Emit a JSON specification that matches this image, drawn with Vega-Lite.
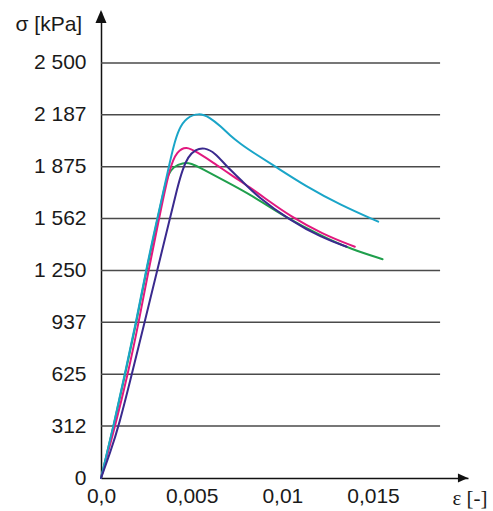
{
  "$schema": "https://vega.github.io/schema/vega-lite/v6.json",
  "width": 367,
  "height": 466,
  "autosize": {"type": "none"},
  "padding": {"left": 101, "top": 12, "right": 25, "bottom": 33},
  "background": "white",
  "config": {
    "view": {"stroke": null},
    "font": "Liberation Sans"
  },
  "datasets": {
    "curves": [
      {"specimen": "1", "strain": 0, "stress": 0},
      {"specimen": "1", "strain": 0.0007, "stress": 312},
      {"specimen": "1", "strain": 0.00133, "stress": 625},
      {"specimen": "1", "strain": 0.00195, "stress": 937},
      {"specimen": "1", "strain": 0.0025, "stress": 1250},
      {"specimen": "1", "strain": 0.00312, "stress": 1562},
      {"specimen": "1", "strain": 0.0035, "stress": 1750},
      {"specimen": "1", "strain": 0.0037, "stress": 1830},
      {"specimen": "1", "strain": 0.004, "stress": 1875},
      {"specimen": "1", "strain": 0.0045, "stress": 1900},
      {"specimen": "1", "strain": 0.005, "stress": 1895},
      {"specimen": "1", "strain": 0.0055, "stress": 1866},
      {"specimen": "1", "strain": 0.0068, "stress": 1792},
      {"specimen": "1", "strain": 0.0084, "stress": 1698},
      {"specimen": "1", "strain": 0.01005, "stress": 1578},
      {"specimen": "1", "strain": 0.0122, "stress": 1455},
      {"specimen": "1", "strain": 0.0138, "stress": 1378},
      {"specimen": "1", "strain": 0.01553, "stress": 1318},

      {"specimen": "2", "strain": 0, "stress": 0},
      {"specimen": "2", "strain": 0.00078, "stress": 312},
      {"specimen": "2", "strain": 0.00148, "stress": 625},
      {"specimen": "2", "strain": 0.00208, "stress": 937},
      {"specimen": "2", "strain": 0.00262, "stress": 1250},
      {"specimen": "2", "strain": 0.0032, "stress": 1562},
      {"specimen": "2", "strain": 0.0038, "stress": 1880},
      {"specimen": "2", "strain": 0.0042, "stress": 1968},
      {"specimen": "2", "strain": 0.0047, "stress": 2000},
      {"specimen": "2", "strain": 0.0053, "stress": 1962},
      {"specimen": "2", "strain": 0.0062, "stress": 1900},
      {"specimen": "2", "strain": 0.0071, "stress": 1830},
      {"specimen": "2", "strain": 0.0082, "stress": 1752},
      {"specimen": "2", "strain": 0.0093, "stress": 1665},
      {"specimen": "2", "strain": 0.0104, "stress": 1580},
      {"specimen": "2", "strain": 0.0122, "stress": 1470},
      {"specimen": "2", "strain": 0.014, "stress": 1393},

      {"specimen": "3", "strain": 0, "stress": 0},
      {"specimen": "3", "strain": 0.00069, "stress": 312},
      {"specimen": "3", "strain": 0.00131, "stress": 625},
      {"specimen": "3", "strain": 0.00193, "stress": 937},
      {"specimen": "3", "strain": 0.00248, "stress": 1250},
      {"specimen": "3", "strain": 0.0031, "stress": 1562},
      {"specimen": "3", "strain": 0.00335, "stress": 1680},
      {"specimen": "3", "strain": 0.00375, "stress": 1880},
      {"specimen": "3", "strain": 0.004, "stress": 2000},
      {"specimen": "3", "strain": 0.0043, "stress": 2105},
      {"specimen": "3", "strain": 0.0047, "stress": 2170},
      {"specimen": "3", "strain": 0.0054, "stress": 2200},
      {"specimen": "3", "strain": 0.006, "stress": 2172},
      {"specimen": "3", "strain": 0.0066, "stress": 2118},
      {"specimen": "3", "strain": 0.0071, "stress": 2065},
      {"specimen": "3", "strain": 0.0077, "stress": 2012},
      {"specimen": "3", "strain": 0.0084, "stress": 1960},
      {"specimen": "3", "strain": 0.0096, "stress": 1877},
      {"specimen": "3", "strain": 0.0113, "stress": 1757},
      {"specimen": "3", "strain": 0.0132, "stress": 1645},
      {"specimen": "3", "strain": 0.01529, "stress": 1544},

      {"specimen": "4", "strain": 0, "stress": 0},
      {"specimen": "4", "strain": 0.0005, "stress": 150},
      {"specimen": "4", "strain": 0.001, "stress": 320},
      {"specimen": "4", "strain": 0.0017, "stress": 625},
      {"specimen": "4", "strain": 0.0024, "stress": 937},
      {"specimen": "4", "strain": 0.0031, "stress": 1250},
      {"specimen": "4", "strain": 0.0038, "stress": 1562},
      {"specimen": "4", "strain": 0.0042, "stress": 1745},
      {"specimen": "4", "strain": 0.0045, "stress": 1860},
      {"specimen": "4", "strain": 0.0048, "stress": 1935},
      {"specimen": "4", "strain": 0.0052, "stress": 1978},
      {"specimen": "4", "strain": 0.0057, "stress": 1992},
      {"specimen": "4", "strain": 0.0063, "stress": 1958},
      {"specimen": "4", "strain": 0.0069, "stress": 1880},
      {"specimen": "4", "strain": 0.0077, "stress": 1798},
      {"specimen": "4", "strain": 0.0086, "stress": 1697},
      {"specimen": "4", "strain": 0.0104, "stress": 1554},
      {"specimen": "4", "strain": 0.0122, "stress": 1446},
      {"specimen": "4", "strain": 0.01355, "stress": 1393}
    ],
    "levels": [
      {"stress": 312.5}, {"stress": 625}, {"stress": 937.5}, {"stress": 1250},
      {"stress": 1562.5}, {"stress": 1875}, {"stress": 2187.5}, {"stress": 2500}
    ]
  },
  "layer": [
    {
      "data": {"name": "levels"},
      "mark": {"type": "rule", "color": "#4a4a4a", "strokeWidth": 1.5},
      "encoding": {
        "y": {
          "field": "stress",
          "type": "quantitative",
          "scale": {"domain": [0, 2807], "nice": false, "zero": true},
          "axis": {
            "values": [0, 312.5, 625, 937.5, 1250, 1562.5, 1875, 2187.5, 2500],
            "labelExpr": "replace(format(floor(datum.value), ','), ',', ' ')",
            "grid": false,
            "ticks": false,
            "domainColor": "#111111",
            "domainWidth": 1.5,
            "labelFont": "Liberation Sans",
            "labelFontSize": 21,
            "labelColor": "#1a1a1a",
            "labelPadding": 15,
            "title": "σ [kPa]",
            "titleAngle": 0,
            "titleAlign": "left",
            "titleBaseline": "alphabetic",
            "titleX": -86,
            "titleY": 18,
            "titleFont": "Liberation Sans",
            "titleFontSize": 21,
            "titleFontWeight": "normal",
            "titleColor": "#1a1a1a"
          }
        },
        "x": {
          "datum": 0,
          "type": "quantitative",
          "scale": {"domain": [0, 0.02024], "nice": false},
          "axis": {
            "values": [0, 0.005, 0.01, 0.015],
            "labelExpr": "datum.value == 0 ? '0,0' : replace(toString(datum.value), '.', ',')",
            "grid": false,
            "ticks": false,
            "domainColor": "#111111",
            "domainWidth": 1.5,
            "labelFont": "Liberation Sans",
            "labelFontSize": 21,
            "labelColor": "#1a1a1a",
            "labelPadding": 7,
            "labelFlush": false,
            "title": "ε [-]",
            "titleAlign": "left",
            "titleBaseline": "alphabetic",
            "titleX": 351,
            "titleY": 26,
            "titleFont": "Liberation Serif",
            "titleFontSize": 21,
            "titleFontWeight": "normal",
            "titleColor": "#1a1a1a"
          }
        },
        "x2": {"datum": 0.0187}
      }
    },
    {
      "data": {"name": "curves"},
      "mark": {"type": "line", "interpolate": "basis", "strokeWidth": 2, "strokeCap": "round"},
      "encoding": {
        "x": {"field": "strain", "type": "quantitative"},
        "y": {"field": "stress", "type": "quantitative"},
        "color": {
          "field": "specimen",
          "type": "nominal",
          "scale": {
            "domain": ["1", "2", "3", "4"],
            "range": ["#1f9f4c", "#e2197f", "#1aa5c8", "#3a2a8e"]
          },
          "legend": null
        },
        "order": {"field": "strain", "type": "quantitative"}
      }
    },
    {
      "data": {"values": [{"axis": "stress"}]},
      "mark": {
        "type": "point",
        "shape": "M0,-1L0.85,1L-0.85,1Z",
        "filled": true,
        "color": "#111111",
        "size": 169,
        "opacity": 1
      },
      "encoding": {
        "x": {"datum": 0, "type": "quantitative"},
        "y": {"datum": 2780, "type": "quantitative"}
      }
    },
    {
      "data": {"values": [{"axis": "strain"}]},
      "mark": {
        "type": "point",
        "shape": "M1,0L-1,-0.9L-1,0.9Z",
        "filled": true,
        "color": "#111111",
        "size": 100,
        "opacity": 1
      },
      "encoding": {
        "x": {"datum": 0.01996, "type": "quantitative"},
        "y": {"datum": 0, "type": "quantitative"}
      }
    }
  ]
}
